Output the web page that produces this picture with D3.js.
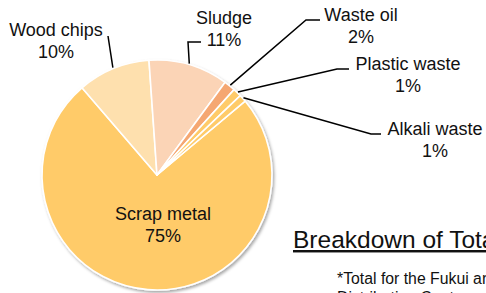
<!DOCTYPE html>
<html>
<head>
<meta charset="utf-8">
<script src="https://cdn.jsdelivr.net/npm/d3@7"></script>
<style>
  body { margin: 0; background: #fff; overflow: hidden; }
  svg { display: block; font-family: "Liberation Sans", Arial, sans-serif; }
</style>
</head>
<body>
<svg id="drawing_region"></svg>
<script>
// data (share of total, %)
const categories = ['Scrap metal', 'Wood chips', 'Sludge', 'Waste oil', 'Plastic waste', 'Alkali waste'];
const shares     = [74.8, 10.2, 11.2, 1.6, 1.2, 1.0];
const titleText  = 'Breakdown of Total';
const noteLines  = ['*Total for the Fukui area', 'Distribution Center'];

// layout for the hand-placed labels (x = text centre, y = first baseline, elbow = leader bend)
const labelLayout = {
  'Scrap metal':   { x: 163, y: 220, inside: true },
  'Wood chips':    { x: 56,  y: 36,  elbow: [108, 36], end: [108, 36] },
  'Sludge':        { x: 224, y: 24,  elbow: [188, 42], end: [201, 42] },
  'Waste oil':     { x: 361, y: 21,  elbow: [306, 20], end: [320, 20] },
  'Plastic waste': { x: 408, y: 70,  elbow: [337, 69], end: [349, 69] },
  'Alkali waste':  { x: 435, y: 135, elbow: [371, 134], end: [381, 134] }
};

const colors = ['#FFCB69', '#FEE0AE', '#FBD4B6', '#F5A772', '#FFCB69', '#FFCB69'];

const config = {
  width: 486,
  height: 293,
  cx: 157,
  cy: 175,
  radius: 115,
  startDeg: 50
};

const data = categories.map((c, i) => ({ label: c, value: shares[i] }));

const svg = d3.select('#drawing_region')
  .attr('width', config.width)
  .attr('height', config.height);

const defs = svg.append('defs');
defs.append('filter')
  .attr('id', 'shadow')
  .attr('x', '-20%').attr('y', '-20%')
  .attr('width', '140%').attr('height', '140%')
  .append('feDropShadow')
  .attr('dx', 1.5).attr('dy', 2)
  .attr('stdDeviation', 1.8)
  .attr('flood-color', '#000')
  .attr('flood-opacity', 0.35);

const start = config.startDeg * Math.PI / 180;
const pie = d3.pie()
  .sort(null)
  .value(d => d.value)
  .startAngle(start)
  .endAngle(start + 2 * Math.PI);

const arc = d3.arc().innerRadius(0).outerRadius(config.radius);

const g = svg.append('g')
  .attr('transform', `translate(${config.cx},${config.cy})`);

const arcs = pie(data);

g.append('g')
  .attr('filter', 'url(#shadow)')
  .selectAll('path')
  .data(arcs)
  .enter()
  .append('path')
  .attr('d', arc)
  .attr('fill', (d, i) => colors[i])
  .attr('stroke', '#fff')
  .attr('stroke-width', 1.6)
  .attr('stroke-linejoin', 'round');

// leader lines
arcs.forEach(d => {
  const lay = labelLayout[d.data.label];
  if (lay.inside) return;
  const mid = (d.startAngle + d.endAngle) / 2;
  const r = config.radius + 1;
  const p0 = [config.cx + r * Math.sin(mid), config.cy - r * Math.cos(mid)];
  svg.append('polyline')
    .attr('points', [p0, lay.elbow, lay.end].map(p => p.join(',')).join(' '))
    .attr('fill', 'none')
    .attr('stroke', '#000')
    .attr('stroke-width', 1.5);
});

// labels
arcs.forEach(d => {
  const lay = labelLayout[d.data.label];
  const t = svg.append('text')
    .attr('text-anchor', 'middle')
    .attr('font-size', '18px')
    .attr('fill', '#111');
  t.append('tspan')
    .attr('x', lay.x).attr('y', lay.y)
    .text(d.data.label);
  t.append('tspan')
    .attr('x', lay.x).attr('dy', 21.5)
    .text(Math.round(d.data.value) + '%');
});

// title and note
svg.append('text')
  .attr('x', 293).attr('y', 248)
  .attr('font-size', '24.5px')
  .attr('fill', '#111')
  .style('text-decoration', 'underline')
  .text(titleText);

svg.append('text')
  .attr('x', 337).attr('y', 284)
  .attr('font-size', '15.8px')
  .attr('fill', '#111')
  .selectAll('tspan')
  .data(noteLines)
  .enter()
  .append('tspan')
  .attr('x', 337)
  .attr('dy', (d, i) => i === 0 ? 0 : 19)
  .text(d => d);
</script>
</body>
</html>
